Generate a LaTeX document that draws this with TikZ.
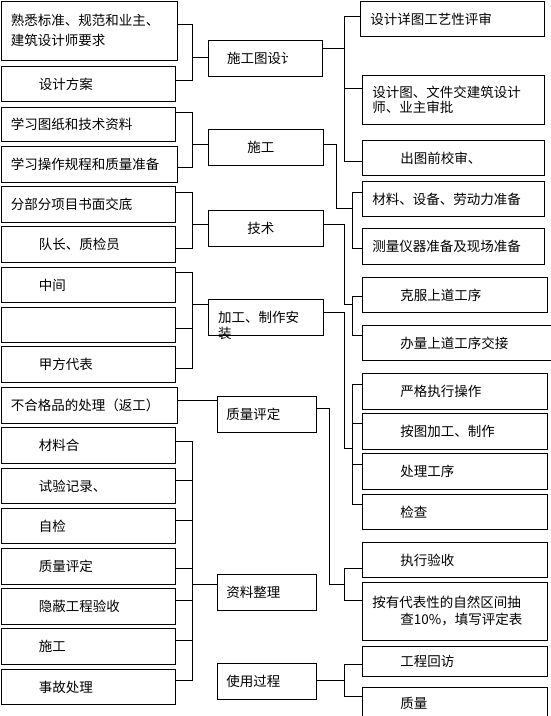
\documentclass[tikz,border=0pt]{standalone}
\usepackage{fontspec}
\newfontfamily\cjk{Noto Sans CJK SC}
\newcommand{\indA}{\hspace*{10pt}}
\newcommand{\indB}{\hspace*{38pt}}
\newcommand{\indC}{\hspace*{19pt}}
\newcommand{\indD}{\hspace*{39pt}}
\newcommand{\indE}{\hspace*{9pt}}
\tikzset{
  box/.style 2 args={draw, line width=0.9pt, anchor=north west, inner sep=0pt,
    minimum width=#1pt, text width=#1pt, minimum height=#2pt, align=left,
    font=\cjk\fontsize{13.5}{16}\selectfont},
  txt/.style={inner sep=0pt, anchor=west, align=left, font=\cjk\fontsize{13.5}{16}\selectfont},
  conn/.style={line width=0.9pt}
}
\begin{document}
\begin{tikzpicture}[x=1pt,y=-1pt]
\useasboundingbox (0,0) rectangle (551,716);
% left column
\node[box={176}{59}, font=\cjk\fontsize{13.5}{20}\selectfont] (L1) at (0.5,0.5) {\indA 熟悉标准、规范和业主、\\\indA 建筑设计师要求};
\node[box={174}{35}] (L2) at (0.5,66) {\indB 设计方案};
\node[box={174}{34}] (L3) at (0.5,107) {\indA 学习图纸和技术资料};
\node[box={176}{36}] (L4) at (0.5,146) {\indA 学习操作规程和质量准备};
\node[box={174}{36}] (L5) at (0.5,186) {\indA 分部分项目书面交底};
\node[box={174}{36}] (L6) at (0.5,226) {\indB 队长、质检员};
\node[box={174}{35}] (L7) at (0.5,267) {\indB 中间};
\node[box={174}{35}] (L8) at (0.5,307) {};
\node[box={174}{36}] (L9) at (0.5,346) {\indB 甲方代表};
\node[box={176}{36}] (L10) at (0.5,387) {\indA 不合格品的处理（返工）};
\node[box={174}{36}] (L11) at (0.5,427) {\indB 材料合};
\node[box={174}{35}] (L12) at (0.5,468) {\indB 试验记录、};
\node[box={174}{35}] (L13) at (0.5,508) {\indB 自检};
\node[box={174}{36}] (L14) at (0.5,548) {\indB 质量评定};
\node[box={174}{36}] (L15) at (0.5,588) {\indB 隐蔽工程验收};
\node[box={174}{36}] (L16) at (0.5,628) {\indB 施工};
\node[box={174}{35}] (L17) at (0.5,669) {\indB 事故处理};
% middle column
\node[box={114}{36}] (M1) at (208,40) {};
\begin{scope}
  \clip (208,40) rectangle (287,76);
  \node[txt] (M1t) at (227,58) {施工图设计};
\end{scope}
\node[box={115}{36}] (M2) at (208,129) {\indD 施工};
\node[box={115}{36}] (M3) at (208,210) {\indD 技术};
\node[box={115}{36}] (M4) at (208,299) {};
\node[txt] (M4t) at (218,325) {加工、制作安\\装};
\node[box={99}{36}] (M5) at (217,396) {\indE 质量评定};
\node[box={99}{36}] (M6) at (217,574) {\indE 资料整理};
\node[box={99}{36}] (M7) at (217,663) {\indE 使用过程};
% right column
\node[box={184}{35}] (R1) at (360,1) {\indA 设计详图工艺性评审};
\node[box={182}{49}, font=\cjk\fontsize{13.5}{15}\selectfont] (R2) at (362,75) {\indA 设计图、文件交建筑设计\\\indA 师、业主审批};
\node[box={182}{35}] (R3) at (362,140) {\indB 出图前校审、};
\node[box={182}{35}] (R4) at (362,181) {\indA 材料、设备、劳动力准备};
\node[box={182}{36}] (R5) at (362,228) {\indA 测量仪器准备及现场准备};
\node[box={185}{35}] (R6) at (362,277) {\indB 克服上道工序};
\node[box={188.5}{35}] (R7) at (362,325) {\indB 办量上道工序交接};
\node[box={185}{36}] (R8) at (362,373) {\indB 严格执行操作};
\node[box={185}{36}] (R9) at (362,413) {\indB 按图加工、制作};
\node[box={185}{36}] (R10) at (362,453) {\indB 处理工序};
\node[box={185}{35}] (R11) at (362,494) {\indB 检查};
\node[box={185}{35}] (R12) at (362,542) {\indB 执行验收};
\node[box={185}{58}, font=\cjk\fontsize{13.5}{17}\selectfont] (R13) at (362,582) {\indA 按有代表性的自然区间抽\\\indB 查10\%，填写评定表};
\node[box={185}{30}] (R14) at (362,646) {\indB 工程回访};
\node[box={185}{32}] (R15) at (362,687) {\indB 质量};
% left brackets
\draw[conn] (L1.east |- 0,24) -- (192,24) |- (L2.east |- 0,80);
\draw[conn] (192,57) -- (M1.west |- 0,57);
\draw[conn] (L3.east |- 0,112) -- (192,112) |- (L4.east |- 0,167);
\draw[conn] (192,144) -- (M2.west |- 0,144);
\draw[conn] (L5.east |- 0,192) -- (192,192) |- (L6.east |- 0,248);
\draw[conn] (192,224) -- (M3.west |- 0,224);
\draw[conn] (L7.east |- 0,272) -- (192,272) |- (L9.east |- 0,368);
\draw[conn] (L8.east |- 0,328) -- (192,328);
\draw[conn] (192,304) -- (M4.west |- 0,304);
\draw[conn] (L10.east |- 0,400) -- (M5.west |- 0,400);
\draw[conn] (L11.east |- 0,441) -- (192,441) |- (L17.east |- 0,680);
\draw[conn] (L12.east |- 0,480) -- (192,480);
\draw[conn] (L13.east |- 0,520) -- (192,520);
\draw[conn] (L14.east |- 0,568) -- (192,568);
\draw[conn] (L15.east |- 0,600) -- (192,600);
\draw[conn] (L16.east |- 0,640) -- (192,640);
\draw[conn] (192,584) -- (M6.west |- 0,584);
% right brackets
\draw[conn] (M1.east |- 0,48) -- (344,48);
\draw[conn] (R1.west |- 0,16) -- (344,16) |- (R3.west |- 0,161);
\draw[conn] (344,88) -- (R2.west |- 0,88);
\draw[conn] (M2.east |- 0,144) -- (336,144) |- (352,208);
\draw[conn] (R4.west |- 0,192) -- (352,192) |- (R5.west |- 0,248);
\draw[conn] (M3.east |- 0,224) -- (344,224) |- (352,304);
\draw[conn] (R6.west |- 0,296) -- (352,296) |- (R7.west |- 0,335);
\draw[conn] (M4.east |- 0,312) -- (344,312) |- (352,448);
\draw[conn] (R8.west |- 0,384) -- (352,384) |- (R11.west |- 0,504);
\draw[conn] (352,423) -- (R9.west |- 0,423);
\draw[conn] (352,464) -- (R10.west |- 0,464);
\draw[conn] (M5.east |- 0,408) -- (329,408) |- (344,584);
\draw[conn] (R12.west |- 0,568) -- (344,568) |- (R13.west |- 0,600);
\draw[conn] (M7.east |- 0,680) -- (344,680);
\draw[conn] (R14.west |- 0,664) -- (344,664) |- (R15.west |- 0,696);
\end{tikzpicture}
\end{document}
